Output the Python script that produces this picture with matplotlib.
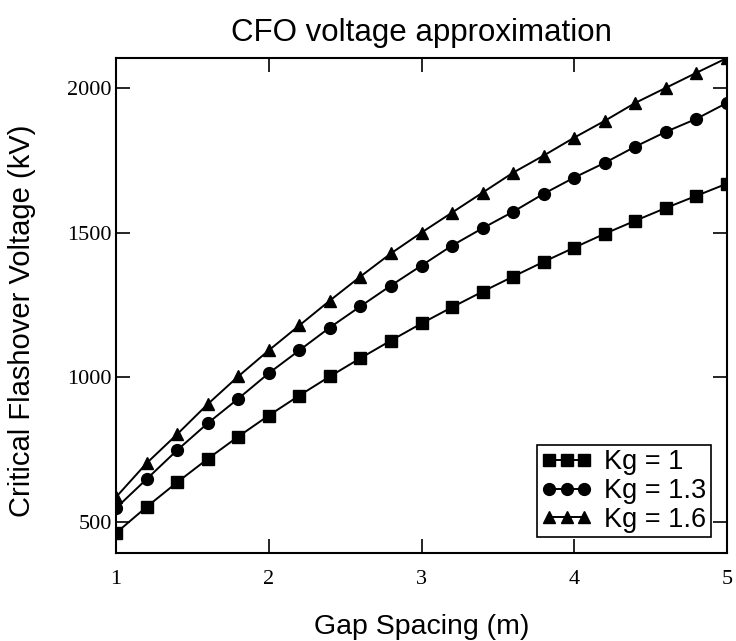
import matplotlib
matplotlib.use('Agg')
import matplotlib.pyplot as plt

# gap spacing (m) and critical flashover voltage (kV) for each gap factor
gap = [1.0, 1.2, 1.4, 1.6, 1.8, 2.0, 2.2, 2.4, 2.6, 2.8, 3.0,
       3.2, 3.4, 3.6, 3.8, 4.0, 4.2, 4.4, 4.6, 4.8, 5.0]
cfo_kg1 = [462, 552, 637, 718, 795, 868, 937, 1003, 1066, 1127, 1186,
           1242, 1296, 1348, 1399, 1448, 1496, 1541, 1585, 1627, 1669]
cfo_kg13 = [548, 648, 748, 841, 926, 1014, 1093, 1172, 1245, 1317, 1386,
            1455, 1515, 1572, 1634, 1690, 1741, 1797, 1848, 1893, 1948]
cfo_kg16 = [586, 703, 803, 907, 1003, 1093, 1179, 1265, 1348, 1428, 1500,
            1569, 1638, 1707, 1766, 1828, 1886, 1948, 2000, 2052, 2103]
labels = ['Kg = 1', 'Kg = 1.3', 'Kg = 1.6']

sans = 'Liberation Sans'
serif = 'Liberation Serif'

fig = plt.figure(figsize=(7.36, 6.41), dpi=100)
ax = fig.add_axes([116/736, 1 - 553/641, 611/736, 495/641])

ax.plot(gap, cfo_kg1, color='black', lw=1.4, marker='s', ms=8, label=labels[0])
ax.plot(gap, cfo_kg13, color='black', lw=1.4, marker='o', ms=8.5, label=labels[1])
ax.plot(gap, cfo_kg16, color='black', lw=1.4, marker='^', ms=9, label=labels[2])

ax.set_xlim(1, 5)
ax.set_ylim(393, 2103)
ax.set_xticks([1, 2, 3, 4, 5])
ax.set_yticks([500, 1000, 1500, 2000])

ax.tick_params(direction='in', length=10, width=1.2, top=True, right=True,
               labelsize=16)
ax.tick_params(axis='x', pad=12)
ax.tick_params(axis='y', pad=3)
for lab in ax.get_xticklabels() + ax.get_yticklabels():
    lab.set_family(serif)
for sp in ax.spines.values():
    sp.set_linewidth(1.5)

ax.set_title('CFO voltage approximation', fontsize=22.5, family=sans, pad=12)
ax.set_xlabel('Gap Spacing (m)', fontsize=20.5, family=sans, labelpad=18)
ax.set_ylabel('Critical Flashover Voltage (kV)', fontsize=21, family=sans)
ax.yaxis.set_label_coords(-0.131, 0.47)

leg = ax.legend(loc='lower right', numpoints=3, handlelength=1.9,
                handletextpad=0.45, labelspacing=0.1, borderpad=0.15,
                borderaxespad=0.6, fancybox=False, framealpha=1,
                edgecolor='black', prop={'family': sans, 'size': 19.5})
leg.get_frame().set_linewidth(1.2)

fig.savefig('out.png', dpi=100)
